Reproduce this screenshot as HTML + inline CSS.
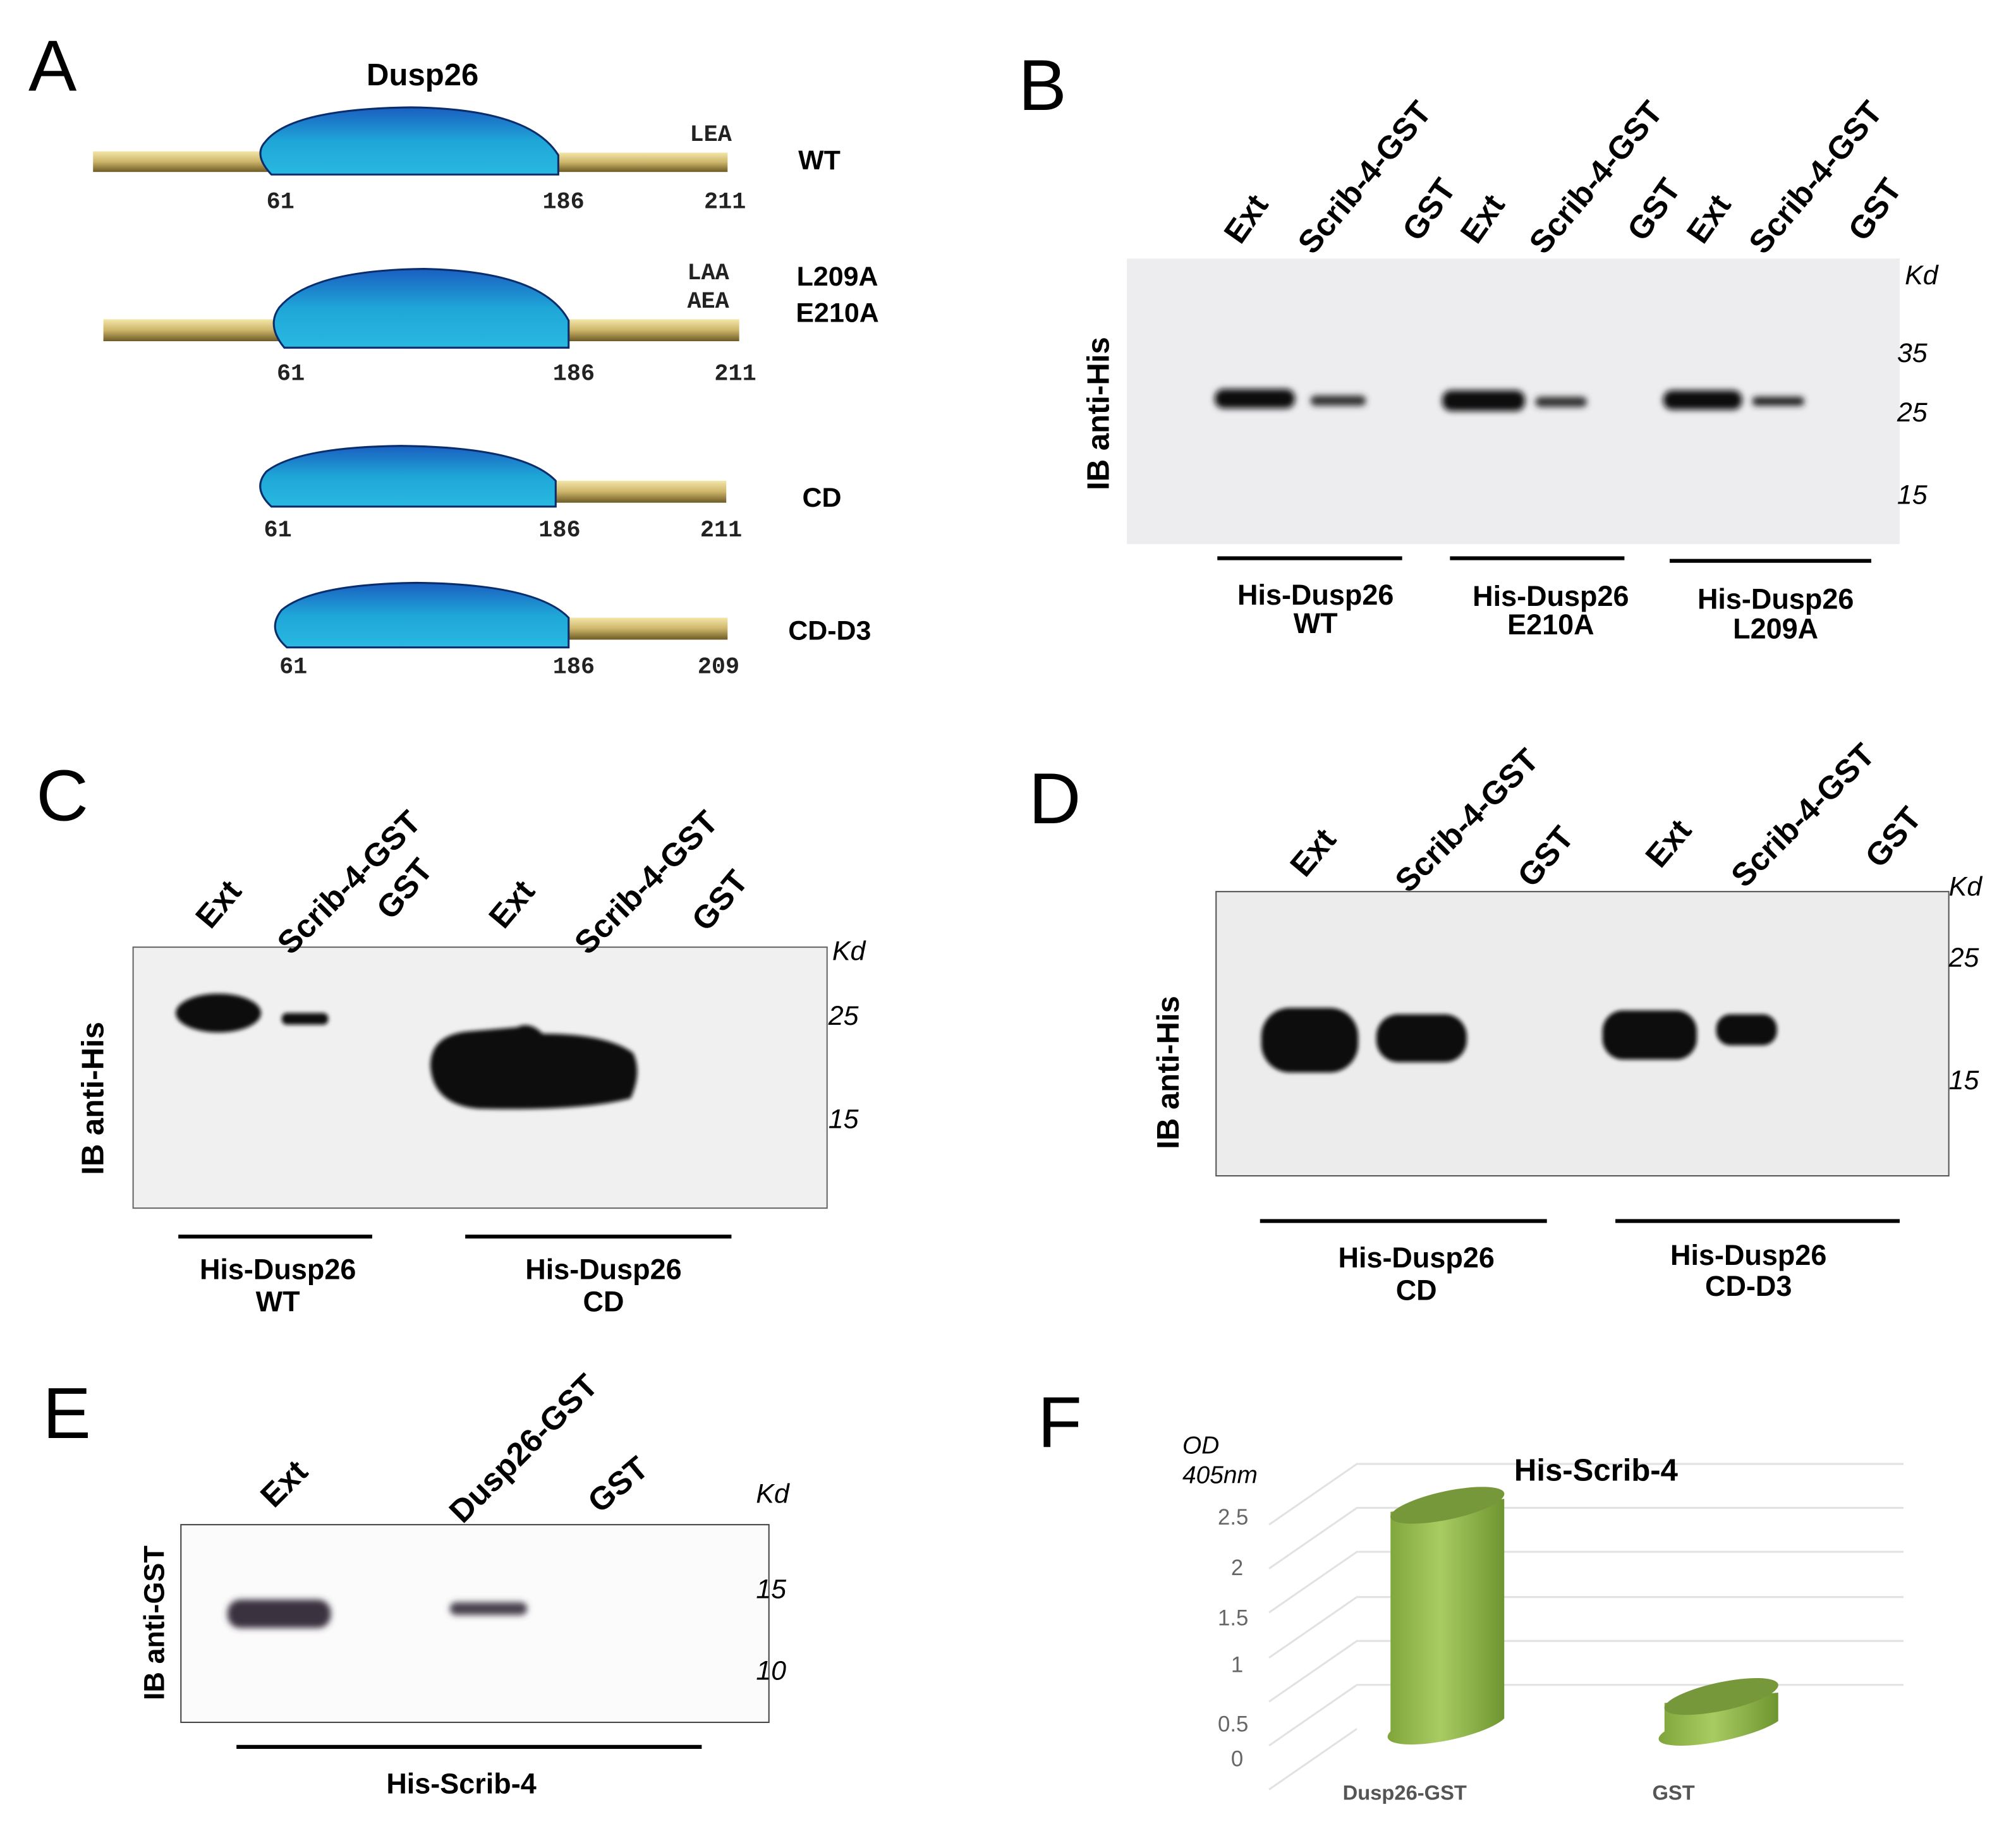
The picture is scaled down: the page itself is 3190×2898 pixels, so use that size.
<!DOCTYPE html>
<html><head><meta charset="utf-8"><style>
html,body{margin:0;padding:0;background:#fff}
svg{display:block}
text{font-family:"Liberation Sans Narrow","Liberation Sans",sans-serif}
.b{font-weight:bold}
.lab{font-family:"Liberation Sans",sans-serif;font-size:56px}
.m{font-family:"Liberation Mono","DejaVu Sans Mono",monospace;font-weight:bold;font-size:18px;fill:#222}
.lane{font-weight:bold;font-size:25px}
.kd{font-style:italic;font-size:21px}
.sub{font-weight:bold;font-size:22px;text-anchor:middle}
</style></head><body>
<svg width="3190" height="2898" viewBox="0 0 1560 1417" xmlns="http://www.w3.org/2000/svg">
<defs>
<linearGradient id="bar" x1="0" y1="0" x2="0" y2="1"><stop offset="0" stop-color="#f3e6a8"/><stop offset="0.5" stop-color="#cdb56a"/><stop offset="1" stop-color="#6d5b25"/></linearGradient>
<linearGradient id="blob" x1="0" y1="0" x2="0" y2="1"><stop offset="0" stop-color="#1a5fc0"/><stop offset="0.5" stop-color="#1fa6d8"/><stop offset="1" stop-color="#28b9e0"/></linearGradient>
<linearGradient id="cyl" x1="0" y1="0" x2="1" y2="0"><stop offset="0" stop-color="#7fa53a"/><stop offset="0.45" stop-color="#a9cc62"/><stop offset="1" stop-color="#6e9530"/></linearGradient>
<filter id="bl" x="-30%" y="-80%" width="160%" height="260%"><feGaussianBlur stdDeviation="2.5"/></filter>
<filter id="bl2" x="-30%" y="-80%" width="160%" height="260%"><feGaussianBlur stdDeviation="1.5"/></filter>
</defs>

<!-- Panel A -->
<text x="22" y="70" class="lab">A</text>
<text x="327" y="66" class="b" font-size="24" text-anchor="middle" font-family="Liberation Sans">Dusp26</text>
<g>
<rect x="72" y="117" width="136" height="16" fill="url(#bar)"/>
<rect x="430" y="118" width="133" height="15" fill="url(#bar)"/>
<path d="M210,135 Q196,120 205,110 Q225,84 318,83 Q410,84 432,120 L432,135 Z" fill="url(#blob)" stroke="#0b2d6b" stroke-width="1.5"/>
<text x="550" y="109" class="m" text-anchor="middle">LEA</text>
<text x="634" y="131" class="b" font-size="21" text-anchor="middle">WT</text>
<text x="217" y="161" class="m" text-anchor="middle">61</text><text x="436" y="161" class="m" text-anchor="middle">186</text><text x="561" y="161" class="m" text-anchor="middle">211</text>
</g>
<g>
<rect x="80" y="247" width="136" height="17" fill="url(#bar)"/>
<rect x="438" y="247" width="134" height="17" fill="url(#bar)"/>
<path d="M220,269 Q206,252 216,238 Q240,209 328,208 Q420,210 440,248 L440,269 Z" fill="url(#blob)" stroke="#0b2d6b" stroke-width="1.5"/>
<text x="548" y="216" class="m" text-anchor="middle">LAA</text>
<text x="548" y="238" class="m" text-anchor="middle">AEA</text>
<text x="648" y="221" class="b" font-size="21" text-anchor="middle">L209A</text>
<text x="648" y="249" class="b" font-size="21" text-anchor="middle">E210A</text>
<text x="225" y="294" class="m" text-anchor="middle">61</text><text x="444" y="294" class="m" text-anchor="middle">186</text><text x="569" y="294" class="m" text-anchor="middle">211</text>
</g>
<g>
<rect x="428" y="372" width="134" height="17" fill="url(#bar)"/>
<path d="M210,392 Q195,378 206,365 Q230,346 310,345 Q405,346 430,372 L430,392 Z" fill="url(#blob)" stroke="#0b2d6b" stroke-width="1.5"/>
<text x="636" y="392" class="b" font-size="21" text-anchor="middle">CD</text>
<text x="215" y="415" class="m" text-anchor="middle">61</text><text x="433" y="415" class="m" text-anchor="middle">186</text><text x="558" y="415" class="m" text-anchor="middle">211</text>
</g>
<g>
<rect x="438" y="478" width="125" height="17" fill="url(#bar)"/>
<path d="M222,501 Q206,487 218,472 Q242,452 322,451 Q415,452 440,478 L440,501 Z" fill="url(#blob)" stroke="#0b2d6b" stroke-width="1.5"/>
<text x="642" y="495" class="b" font-size="21" text-anchor="middle">CD-D3</text>
<text x="227" y="521" class="m" text-anchor="middle">61</text><text x="444" y="521" class="m" text-anchor="middle">186</text><text x="556" y="521" class="m" text-anchor="middle">209</text>
</g>

<!-- Panel B -->
<text x="788" y="85" class="lab">B</text>
<rect x="872" y="200" width="598" height="221" fill="#ededf0"/>
<g filter="url(#bl)" fill="#111">
<rect x="940" y="301" width="62" height="15" rx="7"/><rect x="1014" y="306" width="43" height="8" rx="4" fill="#333"/>
<rect x="1116" y="302" width="64" height="16" rx="7"/><rect x="1188" y="307" width="40" height="8" rx="4" fill="#333"/>
<rect x="1287" y="302" width="61" height="15" rx="7"/><rect x="1356" y="307" width="40" height="7" rx="3" fill="#222"/>
</g>
<g class="lane">
<text transform="translate(960,190) rotate(-55)">Ext</text>
<text transform="translate(1016,198) rotate(-50)">Scrib-4-GST</text>
<text transform="translate(1098,188) rotate(-55)">GST</text>
<text transform="translate(1143,190) rotate(-55)">Ext</text>
<text transform="translate(1195,198) rotate(-50)">Scrib-4-GST</text>
<text transform="translate(1272,188) rotate(-55)">GST</text>
<text transform="translate(1318,190) rotate(-55)">Ext</text>
<text transform="translate(1365,198) rotate(-50)">Scrib-4-GST</text>
<text transform="translate(1443,188) rotate(-55)">GST</text>
</g>
<text x="1474" y="220" class="kd">Kd</text>
<text x="1468" y="280" class="kd">35</text><text x="1468" y="326" class="kd">25</text><text x="1468" y="390" class="kd">15</text>
<text transform="translate(858,320) rotate(-90)" class="b" font-size="24" text-anchor="middle" font-family="Liberation Sans">IB anti-His</text>
<g stroke="#000" stroke-width="3"><line x1="942" y1="432" x2="1085" y2="432"/><line x1="1122" y1="432" x2="1257" y2="432"/><line x1="1292" y1="434" x2="1448" y2="434"/></g>
<text x="1018" y="468" class="sub">His-Dusp26</text><text x="1018" y="490" class="sub">WT</text>
<text x="1200" y="469" class="sub">His-Dusp26</text><text x="1200" y="491" class="sub">E210A</text>
<text x="1374" y="471" class="sub">His-Dusp26</text><text x="1374" y="494" class="sub">L209A</text>

<!-- Panel C -->
<text x="28" y="635" class="lab">C</text>
<rect x="103" y="733" width="537" height="202" fill="#f0f0f0" stroke="#666" stroke-width="1"/>
<g filter="url(#bl2)" fill="#111">
<ellipse cx="169" cy="784" rx="33" ry="15"/>
<rect x="218" y="784" width="36" height="9" rx="4"/>
<path d="M333,825 Q333,800 365,798 L400,795 Q410,790 420,800 Q470,800 490,815 Q497,830 488,850 Q450,860 370,858 Q335,855 333,825Z"/>
</g>
<g class="lane">
<text transform="translate(163,720) rotate(-50)">Ext</text>
<text transform="translate(225,740) rotate(-45)">Scrib-4-GST</text>
<text transform="translate(303,713) rotate(-50)">GST</text>
<text transform="translate(390,720) rotate(-50)">Ext</text>
<text transform="translate(455,740) rotate(-45)">Scrib-4-GST</text>
<text transform="translate(547,722) rotate(-50)">GST</text>
</g>
<text x="644" y="743" class="kd">Kd</text>
<text x="641" y="793" class="kd">25</text><text x="641" y="873" class="kd">15</text>
<text transform="translate(80,850) rotate(-90)" class="b" font-size="24" text-anchor="middle" font-family="Liberation Sans">IB anti-His</text>
<g stroke="#000" stroke-width="3"><line x1="138" y1="957" x2="288" y2="957"/><line x1="360" y1="957" x2="566" y2="957"/></g>
<text x="215" y="990" class="sub">His-Dusp26</text><text x="215" y="1015" class="sub">WT</text>
<text x="467" y="990" class="sub">His-Dusp26</text><text x="467" y="1015" class="sub">CD</text>

<!-- Panel D -->
<text x="796" y="637" class="lab">D</text>
<rect x="941" y="690" width="567" height="220" fill="#ececec" stroke="#555" stroke-width="1"/>
<g filter="url(#bl2)" fill="#111">
<rect x="976" y="780" width="75" height="50" rx="22"/>
<rect x="1065" y="785" width="70" height="37" rx="17"/>
<rect x="1240" y="782" width="73" height="38" rx="16"/>
<rect x="1328" y="785" width="47" height="24" rx="11"/>
</g>
<g class="lane">
<text transform="translate(1010,680) rotate(-50)">Ext</text>
<text transform="translate(1090,692) rotate(-45)">Scrib-4-GST</text>
<text transform="translate(1186,688) rotate(-50)">GST</text>
<text transform="translate(1285,673) rotate(-50)">Ext</text>
<text transform="translate(1350,688) rotate(-45)">Scrib-4-GST</text>
<text transform="translate(1455,673) rotate(-50)">GST</text>
</g>
<text x="1508" y="693" class="kd">Kd</text>
<text x="1508" y="748" class="kd">25</text><text x="1508" y="843" class="kd">15</text>
<text transform="translate(912,830) rotate(-90)" class="b" font-size="24" text-anchor="middle" font-family="Liberation Sans">IB anti-His</text>
<g stroke="#000" stroke-width="3"><line x1="975" y1="945" x2="1197" y2="945"/><line x1="1250" y1="945" x2="1470" y2="945"/></g>
<text x="1096" y="981" class="sub">His-Dusp26</text><text x="1096" y="1006" class="sub">CD</text>
<text x="1353" y="979" class="sub">His-Dusp26</text><text x="1353" y="1003" class="sub">CD-D3</text>

<!-- Panel E -->
<text x="33" y="1113" class="lab">E</text>
<rect x="140" y="1180" width="455" height="153" fill="#fbfbfb" stroke="#444" stroke-width="1"/>
<g filter="url(#bl)">
<rect x="176" y="1238" width="80" height="22" rx="10" fill="#3a3240"/>
<rect x="348" y="1240" width="60" height="10" rx="5" fill="#4a4250"/>
</g>
<g class="lane">
<text transform="translate(212,1168) rotate(-45)">Ext</text>
<text transform="translate(358,1180) rotate(-45)">Dusp26-GST</text>
<text transform="translate(464,1172) rotate(-40)">GST</text>
</g>
<text x="585" y="1163" class="kd">Kd</text>
<text x="585" y="1237" class="kd">15</text><text x="585" y="1300" class="kd">10</text>
<text transform="translate(127,1256) rotate(-90)" class="b" font-size="22" text-anchor="middle" font-family="Liberation Sans">IB anti-GST</text>
<line x1="183" y1="1352" x2="543" y2="1352" stroke="#000" stroke-width="3"/>
<text x="357" y="1388" class="sub" font-size="24">His-Scrib-4</text>

<!-- Panel F -->
<text x="803" y="1120" class="lab">F</text>
<g stroke="#e2e2e2" stroke-width="1.5" fill="none">
<path d="M982,1180 L1050,1133 L1473,1133"/>
<path d="M982,1214 L1050,1167 L1473,1167"/>
<path d="M982,1248 L1050,1201 L1473,1201"/>
<path d="M982,1283 L1050,1236 L1473,1236"/>
<path d="M982,1317 L1050,1270 L1473,1270"/>
<path d="M982,1351 L1050,1304 L1473,1304"/>
<path d="M982,1385 L1050,1338"/>
</g>
<text x="1235" y="1146" class="b" font-size="24" text-anchor="middle">His-Scrib-4</text>
<text x="915" y="1125" font-style="italic" font-size="19">OD</text>
<text x="915" y="1148" font-style="italic" font-size="19">405nm</text>
<g font-size="17" fill="#666" text-anchor="end">
<text x="966" y="1180">2.5</text><text x="962" y="1219">2</text><text x="966" y="1258">1.5</text><text x="962" y="1294">1</text><text x="966" y="1340">0.5</text><text x="962" y="1367">0</text>
</g>
<g>
<path d="M1076,1170 L1076,1340 A44,11 -12 0 0 1164,1330 L1164,1160 Z" fill="url(#cyl)"/>
<ellipse cx="1120" cy="1165" rx="45" ry="11" transform="rotate(-12 1120 1165)" fill="#76973a"/>
<path d="M1288,1318 L1288,1340 A44,10 -12 0 0 1376,1332 L1376,1310 Z" fill="url(#cyl)"/>
<ellipse cx="1332" cy="1313" rx="45" ry="11" transform="rotate(-12 1332 1313)" fill="#76973a"/>
</g>
<text x="1087" y="1393" class="b" font-size="16" fill="#555" text-anchor="middle">Dusp26-GST</text>
<text x="1295" y="1393" class="b" font-size="16" fill="#555" text-anchor="middle">GST</text>
</svg>
</body></html>
